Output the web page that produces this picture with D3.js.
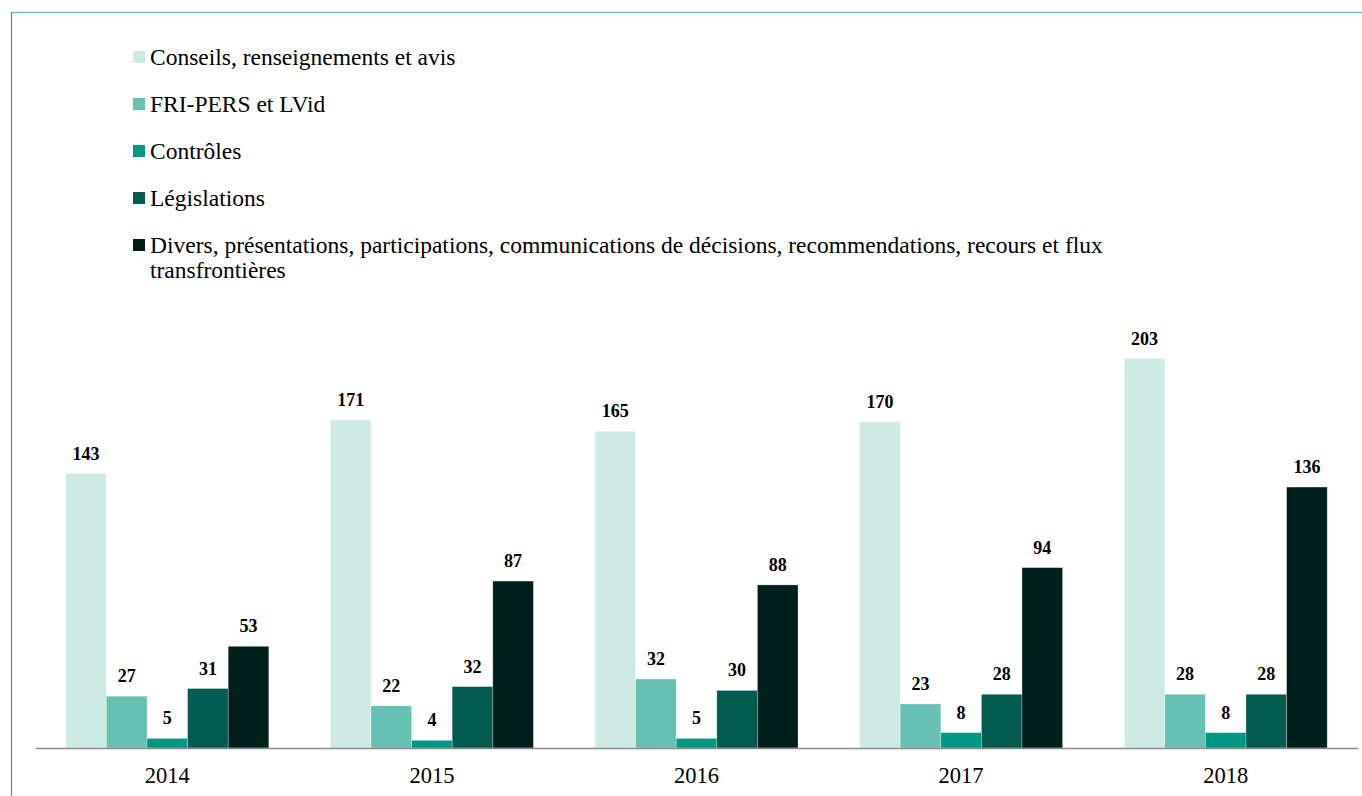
<!DOCTYPE html>
<html><head><meta charset="utf-8">
<script src="https://cdn.jsdelivr.net/npm/d3@7"></script>
<style>
html,body{margin:0;padding:0;background:#fff;}
svg{display:block;}
text{font-family:"Liberation Serif","Times New Roman",serif;}
</style></head>
<body>
<svg id="chart" width="1362" height="796"></svg>
<script>
const years = ["2014","2015","2016","2017","2018"];
const seriesNames = [
  "Conseils, renseignements et avis",
  "FRI-PERS et LVid",
  "Contrôles",
  "Législations",
  "Divers, présentations, participations, communications de décisions, recommendations, recours et flux transfrontières"
];
// bar heights as drawn in the picture
const conseils = [143,171,165,170,203];
const friPers = [27,22,36,23,28];
const controles = [5,4,5,8,8];
const legislations = [31,32,30,28,28];
const divers = [53,87,85,94,136];
// printed value labels
const conseilsLabels = ["143","171","165","170","203"];
const friPersLabels = ["27","22","32","23","28"];
const controlesLabels = ["5","4","5","8","8"];
const legislationsLabels = ["31","32","30","28","28"];
const diversLabels = ["53","87","88","94","136"];
const colors = ["#cdeae5","#67c1b3","#009882","#025b4e","#01201b"];

const seriesValues = [conseils, friPers, controles, legislations, divers];
const seriesLabels = [conseilsLabels, friPersLabels, controlesLabels, legislationsLabels, diversLabels];

const svg = d3.select("#chart");

// frame lines
svg.append("line").attr("x1",11).attr("x2",1362).attr("y1",12.5).attr("y2",12.5)
  .attr("stroke","#6cc7c0").attr("stroke-width",1.5);
svg.append("line").attr("x1",11.5).attr("x2",11.5).attr("y1",12).attr("y2",796)
  .attr("stroke","#2a9d92").attr("stroke-width",1.2);

const baseY = 748;
const y = d3.scaleLinear().domain([0,203]).range([baseY, 358.5]);
const x0 = d3.scaleBand().domain(years).range([35,1358]).padding(0);
const groupW = 203;
const x1 = d3.scaleBand().domain(d3.range(5)).range([0, groupW]).padding(0);
const off = (x0.bandwidth() - groupW)/2;

const g = svg.append("g");
years.forEach((yr, i) => {
  const gg = g.append("g").attr("transform", `translate(${x0(yr)+off},0)`);
  seriesValues.forEach((vals, s) => {
    gg.append("rect")
      .attr("x", x1(s)).attr("width", x1.bandwidth())
      .attr("y", y(vals[i])).attr("height", baseY - y(vals[i]))
      .attr("fill", colors[s])
      .attr("stroke","rgba(255,255,255,0.35)").attr("stroke-width",0.8);
    gg.append("text")
      .attr("x", x1(s) + x1.bandwidth()/2)
      .attr("y", y(vals[i]) - 14)
      .attr("text-anchor","middle")
      .attr("font-size", 18).attr("font-weight","bold").attr("fill","#000")
      .text(seriesLabels[s][i]);
  });
});

// x axis
const xAxis = d3.axisBottom(x0).tickSize(0).tickPadding(0);
const ax = svg.append("g").attr("transform",`translate(0,${baseY})`).call(xAxis);
ax.select(".domain").attr("stroke","#8c8c8c").attr("stroke-width",1.6);
ax.selectAll(".tick text").attr("font-size",22.5).attr("fill","#000")
  .attr("font-family","Liberation Serif, serif").attr("dy",null).attr("y",35);

// legend
const leg = svg.append("g");
seriesNames.forEach((name, s) => {
  const ty = 51 + s*47;
  leg.append("rect").attr("x",133).attr("y",ty).attr("width",12).attr("height",12).attr("fill",colors[s]);
  const t = leg.append("text").attr("x",150).attr("y",ty+13.5)
    .attr("font-size",23.5).attr("fill","#000");
  const words = name.split(" ");
  let line = [], tspan = t.append("tspan").attr("x",150).attr("dy",0);
  const maxW = 980;
  words.forEach(w => {
    line.push(w);
    tspan.text(line.join(" "));
    if (tspan.node().getComputedTextLength() > maxW && line.length > 1) {
      line.pop();
      tspan.text(line.join(" "));
      line = [w];
      tspan = t.append("tspan").attr("x",150).attr("dy",25).text(w);
    }
  });
});
</script>
</body></html>
